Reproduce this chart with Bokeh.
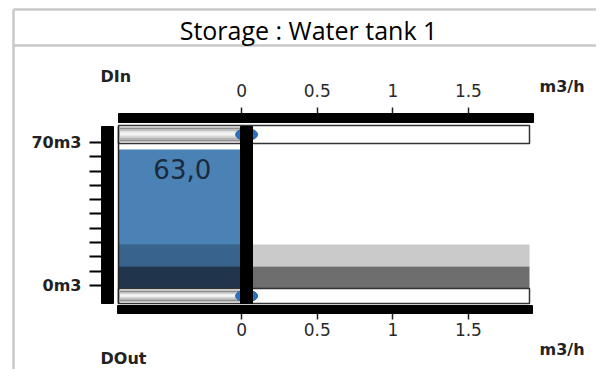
from bokeh.plotting import figure
from bokeh.models import Range1d, LinearAxis, FixedTicker, Label
from bokeh.embed import file_html
from bokeh.resources import INLINE
from bokeh.core.properties import value

# ---------------- data ----------------
title_text = "Storage : Water tank 1"
tank_level = [63.0]                 # m3
volume_ticks = [0, 7, 14, 21, 28, 35, 42, 49, 56, 63, 70]
volume_tick_names = {0: "0m3", 70: "70m3"}
threshold_low_low = [0.0, 10.0]     # dark band
threshold_low = [10.0, 20.0]        # light band
flow_ticks = [0, 0.5, 1, 1.5]
flow_tick_labels = ["0", "0.5", "1", "1.5"]
flow_in = [0.0]                     # m3/h
flow_out = [0.0]                    # m3/h
flow_unit = "m3/h"
flow_in_name = "DIn"
flow_out_name = "DOut"

# ---------------- layout (reference pixel positions) ----------------
W, H = 596, 369
X0PX, XSCALE = 241.1, 151.2                  # flow 0 position, px per m3/h
Y0PX, YSCALE = 288.0, 2.206                  # tank 0 position, px per m3
A0PX, ASCALE = 285.0, 2.043                  # left scale axis


def dx(px):
    return (px - X0PX) / XSCALE


def dy(py):
    return (Y0PX - py) / YSCALE


p = figure(width=W, height=H,
           x_range=Range1d(dx(0), dx(W)), y_range=Range1d(dy(H), dy(0)),
           x_axis_type=None, y_axis_type=None,
           toolbar_location=None, output_backend="svg",
           min_border=0)
p.extra_y_ranges = {"scale": Range1d((A0PX - H) / ASCALE, (A0PX - 0) / ASCALE)}
p.outline_line_color = None
p.background_fill_color = "white"
p.border_fill_color = "white"

# ---------------- outer frame ----------------
p.segment(x0=[dx(13), dx(13), dx(13)], x1=[dx(W + 5), dx(W + 5), dx(13)],
          y0=[dy(9), dy(45), dy(9)], y1=[dy(9), dy(45), dy(H + 5)],
          line_color="#c9c9c9", line_width=2.5)

# ---------------- tank ----------------
tank_left, tank_right = dx(118.5), 0.0
lvl = tank_level[0]
p.quad(left=[tank_left], right=[tank_right], bottom=[0], top=[lvl],
       fill_color="#4a82b6", line_color=None)
p.quad(left=[tank_left], right=[tank_right], bottom=[threshold_low[0]],
       top=[min(lvl, threshold_low[1])], fill_color="#37638c", line_color=None)
p.quad(left=[tank_left], right=[tank_right], bottom=[threshold_low_low[0]],
       top=[min(lvl, threshold_low_low[1])], fill_color="#20354b", line_color=None)

# threshold bands on the flow side
band_l, band_r = dx(252), dx(529)
p.quad(left=[band_l], right=[band_r], bottom=[threshold_low[0]], top=[threshold_low[1]],
       fill_color="#cacaca", line_color=None)
p.quad(left=[band_l], right=[band_r], bottom=[threshold_low_low[0]], top=[threshold_low_low[1]],
       fill_color="#6e6e6e", line_color=None)


# ---------------- flow bars ----------------
def flow_bar(flow, top_px, bot_px):
    p.quad(left=[dx(118)], right=[dx(529)], top=[dy(top_px)], bottom=[dy(bot_px)],
           fill_color="white", line_color="#333333", line_width=1.5)
    shades = ["#8c8c8c", "#bdbdbd", "#ececec", "#f4f4f4", "#d6d6d6", "#b4b4b4", "#8e8e8e"]
    t, b = top_px + 2, bot_px - 2
    n = len(shades)
    for i, c in enumerate(shades):
        y1 = t + (b - t) * i / n
        y2 = t + (b - t) * (i + 1) / n
        p.quad(left=[dx(119.5)], right=[flow], top=[dy(y1)], bottom=[dy(y2)],
               fill_color=c, line_color=None)
    p.ellipse(x=[flow + 5 / XSCALE], y=[dy((top_px + bot_px) / 2)], width=22, height=12,
              width_units="screen", height_units="screen",
              fill_color="#2d72c2", line_color="#1f5fa8")


flow_bar(flow_in[0], 125, 143)
flow_bar(flow_out[0], 288, 303)

# ---------------- black frame bars ----------------
p.quad(left=[dx(118)], right=[dx(533)], top=[dy(113)], bottom=[dy(122)], color="black")
p.quad(left=[dx(117)], right=[dx(532)], top=[dy(305)], bottom=[dy(313)], color="black")
p.quad(left=[dx(101)], right=[dx(113)], top=[dy(126)], bottom=[dy(303)], color="black")
p.quad(left=[dx(240)], right=[dx(252)], top=[dy(126)], bottom=[dy(303)], color="black")
p.segment(x0=[dx(118)], x1=[dx(118)], y0=[dy(126)], y1=[dy(303)],
          line_color="#222222", line_width=1.5)

# value text
p.text(x=[(tank_left + tank_right) / 2 + 2 / XSCALE], y=[dy(168)],
       text=[f"{lvl:.1f}".replace(".", ",")],
       text_align="center", text_baseline="middle",
       text_font=value("DejaVu Sans"), text_font_size="26px", text_color="#1b2a3a")

# ---------------- axes (drawn at fixed positions) ----------------
overrides = dict(zip(flow_ticks, flow_tick_labels))
for loc, ypx, standoff in (("above", 113, 11), ("below", 313, 3)):
    ax = LinearAxis(ticker=FixedTicker(ticks=flow_ticks), major_label_overrides=overrides,
                    fixed_location=dy(ypx))
    ax.axis_line_color = None
    ax.major_tick_in = 0
    ax.major_tick_out = 6
    ax.major_tick_line_color = "#222222"
    ax.major_tick_line_width = 1.5
    ax.minor_tick_line_color = None
    ax.major_label_standoff = standoff
    ax.major_label_text_font = "DejaVu Sans"
    ax.major_label_text_font_size = "17px"
    ax.major_label_text_color = "#2a2a2a"
    p.add_layout(ax, loc)

lax = LinearAxis(y_range_name="scale", ticker=FixedTicker(ticks=volume_ticks),
                 major_label_overrides={t: volume_tick_names.get(t, "") for t in volume_ticks},
                 fixed_location=dx(101))
lax.axis_line_color = None
lax.major_tick_in = 0
lax.major_tick_out = 12
lax.major_tick_line_color = "black"
lax.major_tick_line_width = 2
lax.minor_tick_line_color = None
lax.major_label_standoff = 8
lax.major_label_text_font = "DejaVu Sans"
lax.major_label_text_font_style = "bold"
lax.major_label_text_font_size = "16px"
lax.major_label_text_color = "#222222"
p.add_layout(lax, "left")


# ---------------- texts ----------------
def lab(text, x, y, size, bold=True, font="DejaVu Sans", align="left", color="#222222"):
    p.add_layout(Label(x=dx(x), y=dy(y), text=text,
                       text_align=align, text_baseline="middle",
                       text_font=font, text_font_size=size,
                       text_font_style="bold" if bold else "normal", text_color=color))


lab(title_text, 308, 29, "25px", bold=False, font="Open Sans", align="center", color="#000000")
lab(flow_in_name, 100, 76, "16px")
lab(flow_unit, 539, 86, "16px")
lab(flow_unit, 539, 349, "16px")
lab(flow_out_name, 100, 358, "16px")

open("out.html", "w").write(file_html(p, INLINE))
